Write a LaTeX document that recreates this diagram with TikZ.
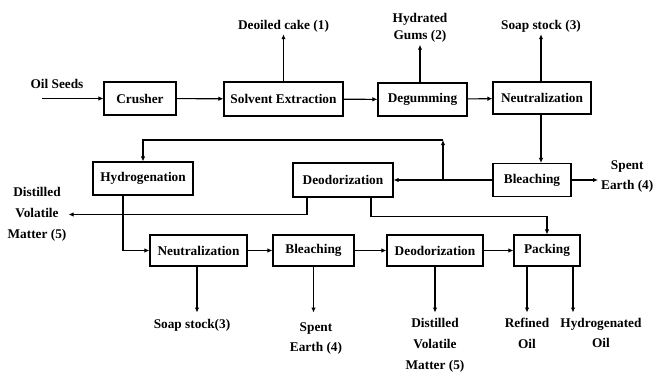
\documentclass[tikz,border=0pt]{standalone}
\usepackage{fontspec}
\setmainfont{Liberation Serif}
\usetikzlibrary{arrows.meta}
\begin{document}
\begin{tikzpicture}[x=1pt,y=-1pt,
  every node/.style={font=\fontsize{13.3}{15}\selectfont\bfseries},
  box/.style={draw,line width=1.1pt,rectangle,inner sep=0pt},
  lbl/.style={align=center,inner sep=2pt},
  lbl2/.style={align=center,inner sep=2pt,font=\fontsize{13.3}{21}\selectfont\bfseries},
  lbl3/.style={align=center,inner sep=2pt,font=\fontsize{13.3}{20}\selectfont\bfseries},
  flow/.style={line width=1.1pt,-{Latex[length=5pt,width=4.5pt]}}]
\useasboundingbox (0,0) rectangle (655,373);
% top row
\node[box,minimum width=72pt,minimum height=33pt] (crusher) at (140,98.5) {Crusher};
\node[box,minimum width=119pt,minimum height=34pt] (solvent) at (283.5,99) {Solvent Extraction};
\node[box,minimum width=89pt,minimum height=33pt] (degum) at (422.5,99.5) {Degumming};
\node[box,minimum width=98pt,minimum height=32pt] (neut1) at (542,98) {Neutralization};
% middle row
\node[box,minimum width=100pt,minimum height=33pt] (hydro) at (143,178.5) {Hydrogenation};
\node[box,minimum width=100pt,minimum height=34pt] (deod1) at (343,180) {Deodorization};
\node[box,minimum width=78pt,minimum height=33pt] (bleach1) at (532,180) {Bleaching};
% bottom row
\node[box,minimum width=97pt,minimum height=31pt] (neut2) at (198.5,250.5) {Neutralization};
\node[box,minimum width=81pt,minimum height=31pt] (bleach2) at (313.5,250.5) {Bleaching};
\node[box,minimum width=96pt,minimum height=31pt] (deod2) at (435,250.5) {Deodorization};
\node[box,minimum width=66pt,minimum height=31pt] (pack) at (547,250.5) {Packing};
% labels
\node[lbl] (seeds) at (57,84) {Oil Seeds};
\coordinate (seedsin) at (42,98.5);
\node[lbl] (cake) at (283.5,26) {Deoiled cake (1)};
\node[lbl,font=\fontsize{13.3}{17}\selectfont\bfseries] (gums) at (420,28) {Hydrated\\Gums (2)};
\node[lbl] (soap1) at (541,26) {Soap stock (3)};
\node[lbl3,anchor=west] (spent1) at (599,177) {Spent\\Earth (4)};
\node[lbl2] (dvm1) at (37,214.5) {Distilled\\Volatile\\Matter (5)};
\node[lbl,anchor=north] (soap2) at (192,317) {Soap stock(3)};
\node[lbl3,anchor=north] (spent2) at (316,320) {Spent\\Earth (4)};
\node[lbl2,anchor=north] (dvm2) at (435,316) {Distilled\\Volatile\\Matter (5)};
\node[lbl2,anchor=north] (refined) at (527,316) {Refined\\Oil};
\node[lbl3,anchor=north] (hoil) at (601,316) {Hydrogenated\\Oil};
% top row flows
\draw[flow] (seedsin) -- (crusher.west);
\draw[flow] (crusher) -- (solvent);
\draw[flow] (solvent) -- (degum);
\draw[flow] (degum) -- (neut1);
\draw[flow] (solvent.north) -- (solvent.north |- cake.south);
\draw[flow] ([xshift=-2.5pt]degum.north) -- ([xshift=-2.5pt]degum.north |- gums.south);
\draw[flow] ([xshift=-1pt]neut1.north) -- ([xshift=-1pt]neut1.north |- soap1.south);
\draw[flow] ([xshift=-1pt]neut1.south) -- ([xshift=-1pt]neut1.south |- bleach1.north);
% middle
\coordinate (spentin) at (598,180);
\draw[flow] (bleach1.east) -- (spentin);
\draw[flow] (bleach1.west) -- (deod1.east);
\coordinate (br) at (443,180);
\coordinate (up) at (443,140);
\draw[flow] (br) -- (up);
\draw[flow] (up) -| (hydro.north);
\draw[flow] ([xshift=-36pt]deod1.south) |- (dvm1.east);
\draw[flow] ([xshift=28pt]deod1.south) -- ++(0,19) -| (pack.north);
\draw[flow] ([xshift=-20pt]hydro.south) |- (neut2.west);
% bottom row flows
\draw[flow] (neut2) -- (bleach2);
\draw[flow] (bleach2) -- (deod2);
\draw[flow] (deod2) -- (pack);
\draw[flow] ([xshift=-1.5pt]neut2.south) -- ++(0,46);
\draw[flow] (bleach2.south) -- ++(0,46);
\draw[flow] (deod2.south) -- ++(0,46);
\draw[flow] ([xshift=-20pt]pack.south) -- ++(0,46);
\draw[flow] ([xshift=26pt]pack.south) -- ++(0,46);
\end{tikzpicture}
\end{document}
